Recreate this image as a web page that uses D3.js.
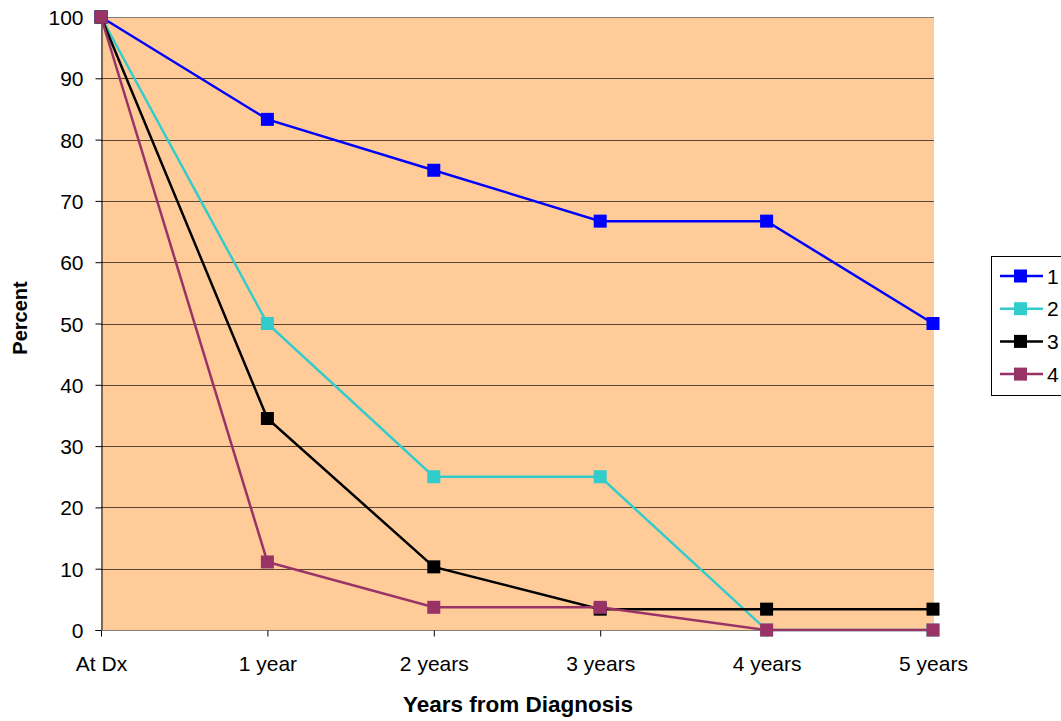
<!DOCTYPE html>
<html>
<head>
<meta charset="utf-8">
<script src="https://cdn.jsdelivr.net/npm/d3@7"></script>
<style>
  html, body { margin: 0; padding: 0; background: #fff; }
  svg { display: block; font-family: Arial, "Liberation Sans", sans-serif; }
</style>
</head>
<body>
<svg id="chart" width="1061" height="721"></svg>
<script>
// Survival by group, percent remaining at each follow-up point
const categories = ["At Dx", "1 year", "2 years", "3 years", "4 years", "5 years"];
const group1 = [100, 83.3, 75, 66.7, 66.7, 50];
const group2 = [100, 50, 25, 25, 0, 0];
const group3 = [100, 34.5, 10.3, 3.4, 3.4, 3.4];
const group4 = [100, 11.1, 3.7, 3.7, 0, 0];
const seriesNames = ["1", "2", "3", "4"];
const yTicks = [0, 10, 20, 30, 40, 50, 60, 70, 80, 90, 100];

const series = [
  { name: seriesNames[0], values: group1, color: "#0000FF" },
  { name: seriesNames[1], values: group2, color: "#33CCCC" },
  { name: seriesNames[2], values: group3, color: "#000000" },
  { name: seriesNames[3], values: group4, color: "#993366" }
];

const FONT = "Arial, 'Liberation Sans', sans-serif";
const svg = d3.select("#chart");
const plot = { left: 101, right: 933, top: 17, bottom: 630 };

const x = d3.scalePoint().domain(categories).range([plot.left, plot.right]);
const y = d3.scaleLinear().domain([0, 100]).range([plot.bottom, plot.top]);

// plot background
svg.append("rect")
  .attr("x", plot.left).attr("y", plot.top)
  .attr("width", plot.right - plot.left + 1).attr("height", plot.bottom - plot.top)
  .attr("fill", "#FFCC99");

// horizontal gridlines
svg.append("g")
  .selectAll("line")
  .data(yTicks.filter(d => d > 0))
  .join("line")
  .attr("x1", plot.left).attr("x2", plot.right + 1)
  .attr("y1", d => Math.round(y(d)) + 0.5).attr("y2", d => Math.round(y(d)) + 0.5)
  .attr("stroke", d => d === 100 ? "#808080" : "#000")
  .attr("stroke-opacity", d => d === 100 ? 1 : 0.65)
  .attr("stroke-width", 1);

// y axis
const yAxis = svg.append("g")
  .attr("transform", `translate(${plot.left + 0.5},0)`)
  .call(d3.axisLeft(y).tickValues(yTicks).tickSize(6).tickPadding(12).tickFormat(d3.format("d")));
yAxis.select(".domain").attr("stroke", "#000");
yAxis.selectAll(".tick line").attr("stroke", "#000");
yAxis.selectAll(".tick text").attr("font-size", 21).attr("fill", "#000")
  .attr("font-family", FONT).attr("dy", "0.36em");

// x axis
const xAxis = svg.append("g")
  .attr("transform", `translate(0,${plot.bottom + 0.5})`)
  .call(d3.axisBottom(x).tickSize(6).tickPadding(20));
xAxis.select(".domain").attr("stroke", "#808080").attr("d", `M${plot.left},0H${plot.right + 1}`);
xAxis.selectAll(".tick line").attr("stroke", "#000");
xAxis.selectAll(".tick text").attr("font-size", 21).attr("fill", "#000")
  .attr("font-family", FONT);

// axis titles
svg.append("text")
  .attr("x", 518).attr("y", 712)
  .attr("text-anchor", "middle")
  .attr("font-family", FONT)
  .attr("font-size", 22.5).attr("font-weight", "bold")
  .text("Years from Diagnosis");

svg.append("text")
  .attr("transform", `translate(27,318) rotate(-90)`)
  .attr("text-anchor", "middle")
  .attr("font-family", FONT)
  .attr("font-size", 20).attr("font-weight", "bold")
  .text("Percent");

// series lines and markers
const line = d3.line().x((d, i) => x(categories[i])).y(d => y(d));
const ms = 13;

series.forEach(s => {
  const g = svg.append("g");
  g.append("path")
    .attr("d", line(s.values))
    .attr("fill", "none")
    .attr("stroke", s.color)
    .attr("stroke-width", 2.5);
  g.selectAll("rect")
    .data(s.values)
    .join("rect")
    .attr("x", (d, i) => x(categories[i]) - ms / 2)
    .attr("y", d => y(d) - ms / 2)
    .attr("width", ms).attr("height", ms)
    .attr("fill", s.color);
});

// legend
const legend = svg.append("g");
legend.append("rect")
  .attr("x", 991.5).attr("y", 256.5)
  .attr("width", 80).attr("height", 139)
  .attr("fill", "#fff").attr("stroke", "#000").attr("stroke-width", 1);

series.forEach((s, i) => {
  const ly = 276 + i * 32.7;
  legend.append("line")
    .attr("x1", 1000).attr("x2", 1043)
    .attr("y1", ly).attr("y2", ly)
    .attr("stroke", s.color).attr("stroke-width", 2.5);
  legend.append("rect")
    .attr("x", 1014).attr("y", ly - 6.5)
    .attr("width", 13).attr("height", 13)
    .attr("fill", s.color);
  legend.append("text")
    .attr("x", 1047).attr("y", ly + 7.5)
    .attr("font-family", FONT)
    .attr("font-size", 21)
    .text(s.name);
});
</script>
</body>
</html>
